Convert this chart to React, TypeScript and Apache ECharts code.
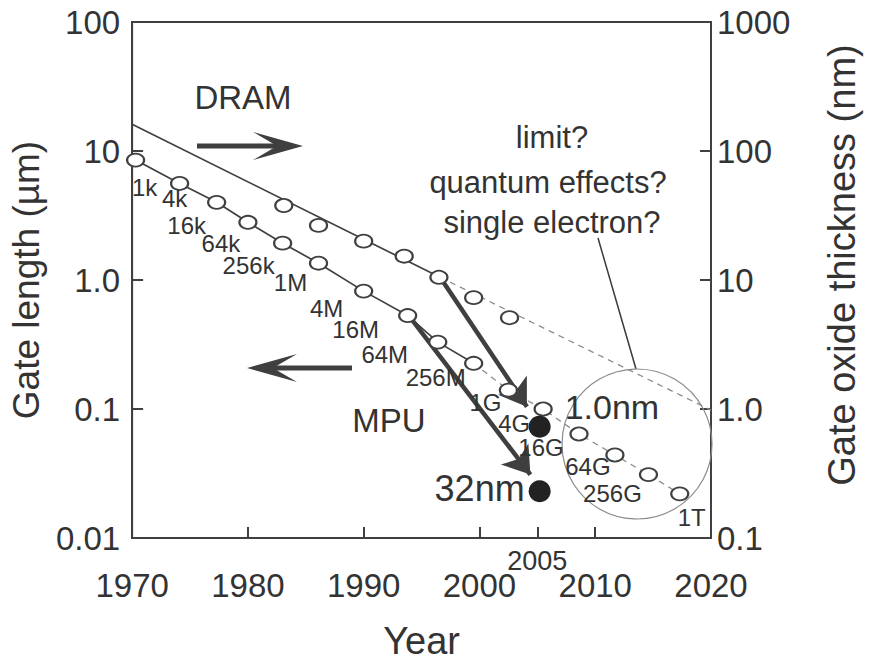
import React, { useEffect, useRef } from "react";
import * as echarts from "echarts";

// ---- data ----
const GATE_YEARS = [1970.3, 1974.1, 1977.3, 1980.0, 1983.0, 1986.1, 1990.0, 1993.8, 1996.4, 1999.5, 2002.5, 2005.5, 2008.6, 2011.7, 2014.6, 2017.3];
const GATE_LENGTH_UM = [8.5, 5.6, 4.0, 2.8, 1.93, 1.35, 0.82, 0.53, 0.33, 0.226, 0.14, 0.10, 0.064, 0.044, 0.031, 0.022];
const DRAM_GENERATIONS = ["1k", "4k", "16k", "64k", "256k", "1M", "4M", "16M", "64M", "256M", "1G", "4G", "16G", "64G", "256G", "1T"];
const GATE_SOLID_COUNT = 10; // points up to 1999.5 drawn solid, rest dashed

const OXIDE_YEARS = [1983.1, 1986.1, 1990.0, 1993.5, 1996.5, 1999.5, 2002.6];
const OXIDE_NM = [37.8, 26.5, 20, 15.3, 10.5, 7.3, 5.1];
const OXIDE_TREND_YEARS = [1970, 1996.6, 2020];
const OXIDE_TREND_NM = [161, 10.5, 0.98];

const MPU_YEAR = 2005.2;
const MPU_GATE_UM = 0.023;
const MPU_OXIDE_NM = 0.73;

const ARROW_OXIDE_FROM = [1996.6, 10.5];
const ARROW_OXIDE_TO = [2004.1, 1.04];
const ARROW_GATE_FROM = [1993.9, 0.53];
const ARROW_GATE_TO = [2004.4, 0.031];

const X_MIN = 1970;
const X_MAX = 2020;
const LEFT_TICK_LABELS = ["0.01", "0.1", "1.0", "10", "100"];
const RIGHT_TICK_LABELS = ["0.1", "1.0", "10", "100", "1000"];

// ---- layout (label offsets in px from each circle centre) ----
const GEN_LABEL_OFFSETS = [
  [9, 27], [-5, 15], [-30, 23], [-27, 21], [-34, 22], [-28, 19], [-37, 17], [-52, 14],
  [-53, 12], [-38, 14], [-23, 12], [-29, 14], [-38, 13], [-27, 12], [-36, 19], [12, 24],
];

const FONT = '"Liberation Sans", Arial, Helvetica, sans-serif';
const INK = "#333333";
const LINE = "#404040";
const DASH = "#8c8c8c";

function decadeLabel(labels: string[], minExp: number) {
  return (v: number) => {
    const e = Math.round(Math.log10(v));
    return labels[e - minExp] ?? "";
  };
}

function buildOption() {
  const gatePts = GATE_YEARS.map((y, i) => [y, GATE_LENGTH_UM[i]]);
  const oxidePts = OXIDE_YEARS.map((y, i) => [y, OXIDE_NM[i]]);
  const trendPts = OXIDE_TREND_YEARS.map((y, i) => [y, OXIDE_TREND_NM[i]]);

  const textBase = { fontFamily: FONT, fill: INK };

  return {
    animation: false,
    backgroundColor: "#ffffff",
    grid: { left: 130, right: 157, top: 22, bottom: 123, show: true, borderColor: LINE, borderWidth: 2, backgroundColor: "transparent" },
    xAxis: [
      {
        type: "value",
        min: X_MIN,
        max: X_MAX,
        interval: 10,
        name: "Year",
        nameLocation: "middle",
        nameGap: 84,
        nameTextStyle: { fontFamily: FONT, fontSize: 38, color: INK },
        axisLine: { show: true, lineStyle: { color: LINE, width: 2 } },
        axisTick: { show: true, inside: true, length: 11, lineStyle: { color: LINE, width: 2 } },
        axisLabel: { fontFamily: FONT, fontSize: 33, color: INK, margin: 31, formatter: (v: number) => String(v) },
        splitLine: { show: false },
      },
      {
        type: "value",
        min: X_MIN,
        max: X_MAX,
        position: "bottom",
        axisLine: { show: false },
        axisTick: { show: true, inside: true, length: 11, customValues: [2005], lineStyle: { color: LINE, width: 2 } },
        axisLabel: { show: true, customValues: [2005], fontFamily: FONT, fontSize: 27, color: INK, margin: 9, formatter: (v: number) => String(v) },
        splitLine: { show: false },
      },
    ],
    yAxis: [
      {
        type: "log",
        logBase: 10,
        min: 0.01,
        max: 100,
        position: "left",
        name: "Gate length (µm)",
        nameLocation: "middle",
        nameRotate: 90,
        nameGap: 78,
        nameTextStyle: { fontFamily: FONT, fontSize: 37, color: INK },
        axisLine: { show: true, lineStyle: { color: LINE, width: 2 } },
        axisTick: { show: true, inside: true, length: 11, lineStyle: { color: LINE, width: 2 } },
        minorTick: { show: false },
        axisLabel: { fontFamily: FONT, fontSize: 33, color: INK, margin: 12, formatter: decadeLabel(LEFT_TICK_LABELS, -2) },
        splitLine: { show: false },
      },
      {
        type: "log",
        logBase: 10,
        min: 0.1,
        max: 1000,
        position: "right",
        name: "Gate oxide thickness (nm)",
        nameLocation: "middle",
        nameRotate: 90,
        nameGap: 112,
        nameTextStyle: { fontFamily: FONT, fontSize: 38, color: INK, padding: [0, 0, 0, 30] },
        axisLine: { show: true, lineStyle: { color: LINE, width: 2 } },
        axisTick: { show: true, inside: true, length: 11, lineStyle: { color: LINE, width: 2 } },
        axisLabel: { fontFamily: FONT, fontSize: 33, color: INK, margin: 6, formatter: decadeLabel(RIGHT_TICK_LABELS, -1) },
        splitLine: { show: false },
      },
    ],
    series: [
      {
        name: "Gate length trend",
        type: "line",
        xAxisIndex: 0,
        yAxisIndex: 0,
        data: gatePts.slice(0, GATE_SOLID_COUNT),
        symbol: "none",
        lineStyle: { color: LINE, width: 1.7 },
        z: 2,
      },
      {
        name: "Gate length projection",
        type: "line",
        xAxisIndex: 0,
        yAxisIndex: 0,
        data: gatePts.slice(GATE_SOLID_COUNT - 1),
        symbol: "none",
        lineStyle: { color: DASH, width: 1.3, type: [6, 5] },
        z: 2,
      },
      {
        name: "Oxide trend",
        type: "line",
        xAxisIndex: 0,
        yAxisIndex: 1,
        data: trendPts.slice(0, 2),
        symbol: "none",
        lineStyle: { color: LINE, width: 1.7 },
        z: 2,
      },
      {
        name: "Oxide projection",
        type: "line",
        xAxisIndex: 0,
        yAxisIndex: 1,
        data: trendPts.slice(1),
        symbol: "none",
        lineStyle: { color: DASH, width: 1.3, type: [6, 5] },
        z: 2,
      },
      {
        name: "MPU arrows oxide",
        type: "lines",
        coordinateSystem: "cartesian2d",
        xAxisIndex: 0,
        yAxisIndex: 1,
        symbol: ["none", "arrow"],
        symbolSize: [14, 26],
        lineStyle: { color: "#3f3f3f", width: 4.5, opacity: 1, curveness: 0 },
        data: [{ coords: [ARROW_OXIDE_FROM, ARROW_OXIDE_TO] }],
        z: 3,
      },
      {
        name: "MPU arrows gate",
        type: "lines",
        coordinateSystem: "cartesian2d",
        xAxisIndex: 0,
        yAxisIndex: 0,
        symbol: ["none", "arrow"],
        symbolSize: [14, 26],
        lineStyle: { color: "#3f3f3f", width: 4.5, opacity: 1, curveness: 0 },
        data: [{ coords: [ARROW_GATE_FROM, ARROW_GATE_TO] }],
        z: 3,
      },
      {
        name: "DRAM gate length",
        type: "scatter",
        xAxisIndex: 0,
        yAxisIndex: 0,
        symbol: "circle",
        symbolSize: [17, 13],
        itemStyle: { color: "#ffffff", borderColor: LINE, borderWidth: 2, opacity: 1 },
        data: gatePts.map((p, i) => ({
          value: p,
          label: { offset: GEN_LABEL_OFFSETS[i] },
        })),
        label: {
          show: true,
          position: "inside",
          fontFamily: FONT,
          fontSize: 24,
          color: INK,
          opacity: 1,
          formatter: (p: any) => DRAM_GENERATIONS[p.dataIndex],
        },
        z: 4,
      },
      {
        name: "DRAM oxide",
        type: "scatter",
        xAxisIndex: 0,
        yAxisIndex: 1,
        symbol: "circle",
        symbolSize: [17, 13],
        itemStyle: { color: "#ffffff", borderColor: LINE, borderWidth: 2, opacity: 1 },
        data: oxidePts,
        z: 4,
      },
      {
        name: "MPU oxide 2005",
        type: "scatter",
        xAxisIndex: 0,
        yAxisIndex: 1,
        symbol: "circle",
        symbolSize: 22,
        itemStyle: { color: "#222222", opacity: 1 },
        data: [[MPU_YEAR, MPU_OXIDE_NM]],
        label: { show: true, position: "right", distance: 14, offset: [0, -20], formatter: "1.0nm", fontFamily: FONT, fontSize: 34, color: INK, opacity: 1 },
        z: 5,
      },
      {
        name: "MPU gate 2005",
        type: "scatter",
        xAxisIndex: 0,
        yAxisIndex: 0,
        symbol: "circle",
        symbolSize: 22,
        itemStyle: { color: "#222222", opacity: 1 },
        data: [[MPU_YEAR, MPU_GATE_UM]],
        label: { show: true, position: "left", distance: 4, offset: [0, -3], formatter: "32nm", fontFamily: FONT, fontSize: 36, color: INK, opacity: 1 },
        z: 5,
      },
    ],
    graphic: [
      { type: "text", x: 243, y: 97, style: { ...textBase, text: "DRAM", fontSize: 33, align: "center", verticalAlign: "middle" } },
      { type: "text", x: 389, y: 420, style: { ...textBase, text: "MPU", fontSize: 33, align: "center", verticalAlign: "middle" } },
      { type: "text", x: 552, y: 137, style: { ...textBase, text: "limit?", fontSize: 31, align: "center", verticalAlign: "middle" } },
      { type: "text", x: 548, y: 182, style: { ...textBase, text: "quantum effects?", fontSize: 31, align: "center", verticalAlign: "middle" } },
      { type: "text", x: 552, y: 222, style: { ...textBase, text: "single electron?", fontSize: 31, align: "center", verticalAlign: "middle" } },
      // right-pointing arrow (DRAM -> oxide axis)
      { type: "line", shape: { x1: 197, y1: 146, x2: 282, y2: 146 }, style: { stroke: "#3f3f3f", lineWidth: 5 } },
      { type: "polygon", shape: { points: [[303, 146], [253, 132], [277, 146], [253, 160]] }, style: { fill: "#3f3f3f" } },
      // left-pointing arrow (MPU <- gate axis)
      { type: "line", shape: { x1: 352, y1: 368, x2: 268, y2: 368 }, style: { stroke: "#3f3f3f", lineWidth: 5 } },
      { type: "polygon", shape: { points: [[247, 368], [297, 354], [273, 368], [297, 382]] }, style: { fill: "#3f3f3f" } },
      // circle marking the limit region and pointer
      { type: "circle", shape: { cx: 637, cy: 444, r: 75 }, style: { fill: "none", stroke: "#8a8a8a", lineWidth: 1.2 }, z: 1 },
      { type: "line", shape: { x1: 598, y1: 238, x2: 636, y2: 369 }, style: { stroke: "#3a3a3a", lineWidth: 1.5 } },
    ],
  };
}

export default function App() {
  const ref = useRef<HTMLDivElement>(null);
  useEffect(() => {
    if (!ref.current) return;
    const chart = echarts.init(ref.current, null, { renderer: "svg" });
    chart.setOption(buildOption() as any);
    return () => chart.dispose();
  }, []);
  return <div ref={ref} style={{ position: "fixed", left: 0, top: 0, width: 869, height: 665, background: "#fff" }} />;
}
